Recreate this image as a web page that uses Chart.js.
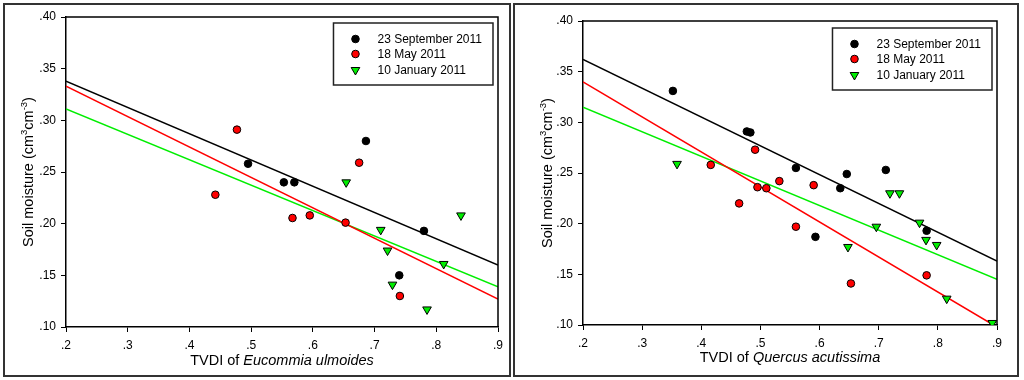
<!DOCTYPE html>
<html>
<head>
<meta charset="utf-8">
<script src="https://cdn.jsdelivr.net/npm/chart.js@4"></script>
<style>
html, body { margin: 0; padding: 0; background: #fff; }
#wrap { position: relative; width: 1024px; height: 380px; }
.panel { position: absolute; top: 0; width: 512px; height: 380px; }
</style>
</head>
<body>
<div id="wrap">
  <div class="panel" style="left:0"><canvas id="euChart" width="512" height="380"></canvas></div>
  <div class="panel" style="left:512px"><canvas id="quChart" width="512" height="380"></canvas></div>
</div>
<script>
// series names (legend)
const seriesLabels = ['23 September 2011', '18 May 2011', '10 January 2011'];

// Eucommia ulmoides panel - TVDI (x) and soil moisture (y)
const euSepX = [0.495, 0.553, 0.570, 0.686, 0.740, 0.780];
const euSepY = [0.258, 0.240, 0.240, 0.280, 0.150, 0.193];
const euMayX = [0.442, 0.477, 0.567, 0.595, 0.653, 0.675, 0.741];
const euMayY = [0.228, 0.291, 0.2055, 0.208, 0.201, 0.259, 0.130];
const euJanX = [0.654, 0.710, 0.721, 0.729, 0.785, 0.812, 0.840];
const euJanY = [0.240, 0.194, 0.174, 0.141, 0.117, 0.161, 0.208];
// regression lines (end points)
const euFitX = [0.2, 0.9];
const euSepFit = [0.338, 0.160];
const euMayFit = [0.333, 0.127];
const euJanFit = [0.311, 0.139];

// Quercus acutissima panel
const quSepX = [0.352, 0.477, 0.483, 0.560, 0.593, 0.635, 0.646, 0.712, 0.781];
const quSepY = [0.331, 0.291, 0.290, 0.255, 0.187, 0.235, 0.249, 0.253, 0.193];
const quMayX = [0.416, 0.464, 0.491, 0.495, 0.510, 0.532, 0.560, 0.590, 0.653, 0.781];
const quMayY = [0.258, 0.220, 0.273, 0.236, 0.235, 0.242, 0.197, 0.238, 0.141, 0.149];
const quJanX = [0.359, 0.648, 0.696, 0.719, 0.735, 0.769, 0.780, 0.798, 0.815, 0.892];
const quJanY = [0.259, 0.177, 0.197, 0.230, 0.230, 0.201, 0.184, 0.179, 0.126, 0.102];
const quFitX = [0.2, 0.9];
const quFitXMay = [0.2, 0.894];
const quSepFit = [0.362, 0.163];
const quMayFit = [0.340, 0.100];
const quJanFit = [0.315, 0.145];

// axis ticks
const xTicks = [0.2, 0.9, 0.1];   // min, max, step
const yTicks = [0.10, 0.40, 0.05];

const FONT = '"Liberation Sans", Arial, Helvetica, sans-serif';
const colors = ['#000000', '#ff0000', '#00ee00'];
const markers = [
  { pointStyle: 'circle', radius: 3.8, rotation: 0 },
  { pointStyle: 'circle', radius: 3.8, rotation: 0 },
  { pointStyle: 'triangle', radius: 5, rotation: 180 }
];

function pts(xs, ys) {
  return xs.map((x, i) => ({ x: x, y: ys[i] }));
}

// draw a run of text pieces (normal / italic / superscript) centred on 0,0
function drawRich(ctx, parts, size) {
  const fontOf = p => (p.it ? 'italic ' : '') + (p.sup ? size - 5 : size) + 'px ' + FONT;
  let total = 0;
  parts.forEach(p => { ctx.font = fontOf(p); p.w = ctx.measureText(p.t).width; total += p.w; });
  let x = -total / 2;
  ctx.textBaseline = 'middle';
  ctx.textAlign = 'left';
  ctx.fillStyle = '#000';
  parts.forEach(p => {
    ctx.font = fontOf(p);
    ctx.fillText(p.t, x, p.sup ? -5 : 0);
    x += p.w;
  });
}

const panelDeco = {
  id: 'panelDeco',
  afterDraw(chart, args, o) {
    const ctx = chart.ctx;
    const a = chart.chartArea;
    ctx.save();

    // outer frame
    ctx.strokeStyle = '#333';
    ctx.lineWidth = 2;
    ctx.strokeRect(o.frame[0], o.frame[1], o.frame[2], o.frame[3]);

    // top and right side of the plot box
    ctx.strokeStyle = '#000';
    ctx.lineWidth = 1.5;
    ctx.beginPath();
    ctx.moveTo(a.left, a.top);
    ctx.lineTo(a.right, a.top);
    ctx.lineTo(a.right, a.bottom);
    ctx.stroke();

    // legend box
    ctx.font = '12px ' + FONT;
    let tw = 0;
    seriesLabels.forEach(s => { tw = Math.max(tw, ctx.measureText(s).width); });
    const bw = tw + 55, bh = 62;
    const bx = a.right - 5 - bw, by = a.top + o.legTop;
    ctx.fillStyle = '#fff';
    ctx.fillRect(bx, by, bw, bh);
    ctx.strokeStyle = '#222';
    ctx.lineWidth = 1.5;
    ctx.strokeRect(bx, by, bw, bh);
    const rows = [16, 31, 47];
    seriesLabels.forEach((s, i) => {
      ctx.fillStyle = colors[i];
      ctx.strokeStyle = '#000';
      ctx.lineWidth = 1;
      Chart.helpers.drawPoint(ctx, {
        pointStyle: markers[i].pointStyle,
        radius: markers[i].radius,
        rotation: markers[i].rotation,
        borderWidth: 1
      }, bx + 22, by + rows[i]);
      ctx.fillStyle = '#000';
      ctx.font = '12px ' + FONT;
      ctx.textAlign = 'left';
      ctx.textBaseline = 'middle';
      ctx.fillText(s, bx + 44, by + rows[i] + 1);
    });

    // x axis title
    ctx.save();
    ctx.translate((a.left + a.right) / 2, o.xTitleY);
    drawRich(ctx, [{ t: 'TVDI of ' }, { t: o.species, it: true }], 14.5);
    ctx.restore();

    // y axis title
    ctx.save();
    ctx.translate(o.yTitleX, (a.top + a.bottom) / 2);
    ctx.rotate(-Math.PI / 2);
    drawRich(ctx, [{ t: 'Soil moisture (cm' }, { t: '3', sup: true }, { t: 'cm' }, { t: '-3', sup: true }, { t: ')' }], 14.5);
    ctx.restore();

    ctx.restore();
  }
};

function makeChart(id, o) {
  const sets = [];
  o.points.forEach((p, i) => {
    sets.push({
      label: seriesLabels[i],
      data: pts(p[0], p[1]),
      showLine: false,
      backgroundColor: colors[i],
      borderColor: '#000',
      pointBorderWidth: 1,
      pointStyle: markers[i].pointStyle,
      pointRadius: markers[i].radius,
      pointRotation: markers[i].rotation,
      order: 0
    });
  });
  o.fits.forEach((f, i) => {
    sets.push({
      label: seriesLabels[i] + ' fit',
      data: pts(f[0], f[1]),
      showLine: true,
      borderColor: colors[i],
      borderWidth: 1.5,
      pointRadius: 0,
      order: 1
    });
  });

  return new Chart(document.getElementById(id), {
    type: 'scatter',
    data: { datasets: sets },
    options: {
      responsive: false,
      animation: false,
      events: [],
      layout: { padding: { left: 0, top: o.top, right: o.right, bottom: 0 } },
      plugins: {
        legend: { display: false },
        tooltip: { enabled: false },
        panelDeco: o.deco
      },
      scales: {
        x: {
          type: 'linear',
          min: xTicks[0], max: xTicks[1],
          ticks: {
            stepSize: xTicks[2],
            callback: v => v.toFixed(1).replace(/^0/, ''),
            font: { family: FONT, size: 12 },
            color: '#000',
            padding: 6,
            maxRotation: 0,
            autoSkip: false
          },
          grid: { drawOnChartArea: false, drawTicks: true, tickLength: 5, color: '#000', tickWidth: 1 },
          border: { display: true, color: '#000', width: 1.5 },
          afterFit: s => { s.height = o.xh; }
        },
        y: {
          type: 'linear',
          min: yTicks[0], max: yTicks[1],
          ticks: {
            stepSize: yTicks[2],
            callback: v => v.toFixed(2).replace(/^0/, ''),
            font: { family: FONT, size: 12 },
            color: '#000',
            padding: 5,
            autoSkip: false
          },
          grid: { drawOnChartArea: false, drawTicks: true, tickLength: 5, color: '#000', tickWidth: 1 },
          border: { display: true, color: '#000', width: 1.5 },
          afterFit: s => { s.width = o.yw; }
        }
      }
    },
    plugins: [panelDeco]
  });
}

makeChart('euChart', {
  points: [[euSepX, euSepY], [euMayX, euMayY], [euJanX, euJanY]],
  fits: [[euFitX, euSepFit], [euFitX, euMayFit], [euFitX, euJanFit]],
  top: 17, right: 14, yw: 66, xh: 53,
  deco: { frame: [4, 4, 506, 372], legTop: 6, xTitleY: 361, yTitleX: 29, species: 'Eucommia ulmoides' }
});

makeChart('quChart', {
  points: [[quSepX, quSepY], [quMayX, quMayY], [quJanX, quJanY]],
  fits: [[quFitX, quSepFit], [quFitXMay, quMayFit], [quFitX, quJanFit]],
  top: 21, right: 27, yw: 71, xh: 55,
  deco: { frame: [2, 4, 504, 372], legTop: 7, xTitleY: 358, yTitleX: 36, species: 'Quercus acutissima' }
});
</script>
</body>
</html>
